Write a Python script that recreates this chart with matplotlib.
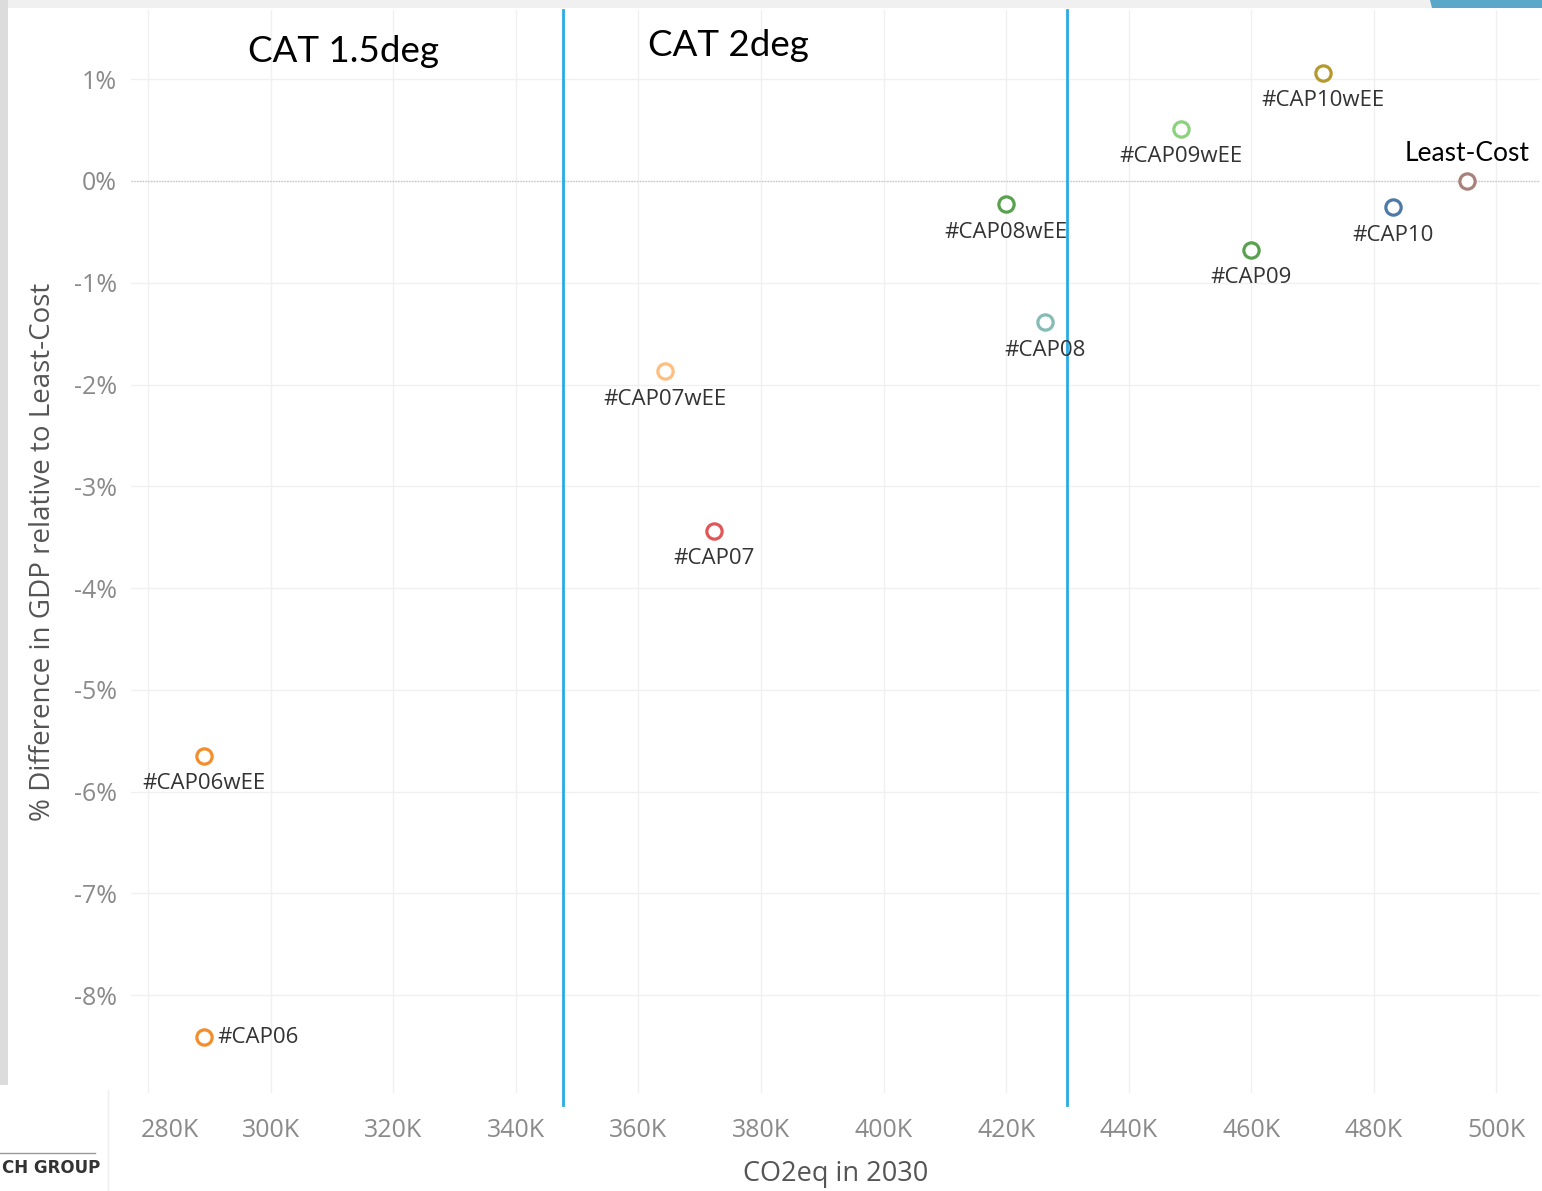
import matplotlib
matplotlib.use("Agg")
import matplotlib.pyplot as plt
from matplotlib.patches import Rectangle, Polygon
from matplotlib.lines import Line2D
from matplotlib.ticker import FuncFormatter
from matplotlib.transforms import ScaledTranslation

# ---------------- data ----------------
scenarios = ["#CAP06wEE", "#CAP06", "#CAP07wEE", "#CAP07", "#CAP08wEE", "#CAP08",
             "#CAP09wEE", "#CAP09", "#CAP10wEE", "#CAP10", "Least-Cost"]
co2eq_2030 = [289100, 289100, 364300, 372300, 420000, 426300,
              448500, 459900, 471700, 483100, 495200]
gdp_diff_pct = [-5.65, -8.41, -1.87, -3.44, -0.23, -1.39,
                0.51, -0.68, 1.06, -0.26, 0.0]
colors = ["#f28e2b", "#f28e2b", "#ffbe7d", "#e15759", "#59a14f", "#86bcb6",
          "#8cd17d", "#59a14f", "#b6992d", "#4e79a7", "#a8827a"]
label_pos = ["below", "right", "below", "below", "below", "below",
             "below", "below", "below", "below", "above"]
cat_names = ["CAT 1.5deg", "CAT 2deg"]
cat_label_x = [296300, 361600]
cat_label_y = [1.27, 1.33]
cat_thresholds = [347700, 430000]
x_ticks = [280000, 300000, 320000, 340000, 360000, 380000, 400000,
           420000, 440000, 460000, 480000, 500000]
y_ticks = [1, 0, -1, -2, -3, -4, -5, -6, -7, -8]

W, H = 1542, 1191
fig = plt.figure(figsize=(W / 100, H / 100), dpi=100)
fig.patch.set_facecolor("white")

# decorative frame from the screenshot
fig.patches.append(Rectangle((0, 1 - 8 / H), 1, 8 / H, transform=fig.transFigure,
                             facecolor="#f0f0f0", edgecolor="none", zorder=0))
fig.patches.append(Rectangle((0, 1 - 1085 / H), 8 / W, 1085 / H, transform=fig.transFigure,
                             facecolor="#dcdcdc", edgecolor="none", zorder=0))
fig.patches.append(Polygon([(1430 / W, 1), (1542 / W, 1), (1542 / W, 1 - 8 / H), (1432 / W, 1 - 8 / H)],
                           closed=True, transform=fig.transFigure,
                           facecolor="#5ba7c9", edgecolor="none", zorder=1))
fig.lines.append(Line2D([108 / W, 108 / W], [0, 1 - 1090 / H], transform=fig.transFigure,
                        color="#eeeeee", lw=1))
fig.lines.append(Line2D([0, 95 / W], [1 - 1153 / H, 1 - 1153 / H], transform=fig.transFigure,
                        color="#999999", lw=1))
fig.text(2 / W, 1 - 1168 / H, "CH GROUP", fontsize=12, color="#333333",
         family="Liberation Sans Narrow", ha="left", va="center", fontweight="bold")

ax_left, ax_right, ax_top, ax_bot = 131, 1540, 10, 1093
ax = fig.add_axes([ax_left / W, 1 - ax_bot / H, (ax_right - ax_left) / W, (ax_bot - ax_top) / H])
ax.set_facecolor("white")

ax.set_xlim(277200, 507100)
ax.set_ylim(-8.96, 1.68)

ax.set_xticks(x_ticks)
ax.set_yticks(y_ticks)
ax.xaxis.set_major_formatter(FuncFormatter(lambda v, p: f"{v/1000:.0f}K"))
ax.yaxis.set_major_formatter(FuncFormatter(lambda v, p: f"{v:.0f}%"))
ax.grid(True, color="#f0f0f0", lw=1)
ax.set_axisbelow(True)
for s in ax.spines.values():
    s.set_visible(False)
ax.tick_params(length=0, labelsize=18, labelcolor="#8a8a8a")
ax.tick_params(axis="y", pad=10)
ax.tick_params(axis="x", pad=18)
for lab in ax.get_xticklabels() + ax.get_yticklabels():
    lab.set_family("Open Sans")
# first x tick label is shifted right in the original screenshot
first = ax.get_xticklabels()[0]
first.set_transform(first.get_transform() + ScaledTranslation(22 / 100, 0, fig.dpi_scale_trans))

# zero line
ax.axhline(0, color="#c8c8c8", lw=1, ls=(0, (1, 1)), zorder=1)

# CAT threshold lines
for xv in cat_thresholds:
    ax.axvline(xv, ymin=-0.011, ymax=1, color="#29abe2", lw=2, clip_on=False, zorder=2)

# scatter points
for name, xv, yv, c, pos in zip(scenarios, co2eq_2030, gdp_diff_pct, colors, label_pos):
    ax.plot([xv], [yv], marker="o", ms=11, mfc="white", mec=c, mew=2.3, ls="none", zorder=5)
    if pos == "below":
        ax.annotate(name, (xv, yv), xytext=(0, -20), textcoords="offset points",
                    ha="center", va="center", fontsize=16, color="#333333", family="Open Sans")
    elif pos == "right":
        ax.annotate(name, (xv, yv), xytext=(10, 0), textcoords="offset points",
                    ha="left", va="center", fontsize=16, color="#333333", family="Open Sans")
    else:
        ax.annotate(name, (xv, yv), xytext=(0, 20), textcoords="offset points",
                    ha="center", va="center", fontsize=19, color="black", family="Lato")

# CAT region titles
for name, cx, cy in zip(cat_names, cat_label_x, cat_label_y):
    ax.text(cx, cy, name, ha="left", va="center", fontsize=26.5, color="black", family="Lato")

ax.set_xlabel("CO2eq in 2030", fontsize=19.5, color="#555555", family="Open Sans", labelpad=12)
ax.set_ylabel("% Difference in GDP relative to Least-Cost", fontsize=20, color="#555555",
              family="Open Sans", labelpad=12)

fig.savefig("out.png", dpi=100, facecolor=fig.get_facecolor())
